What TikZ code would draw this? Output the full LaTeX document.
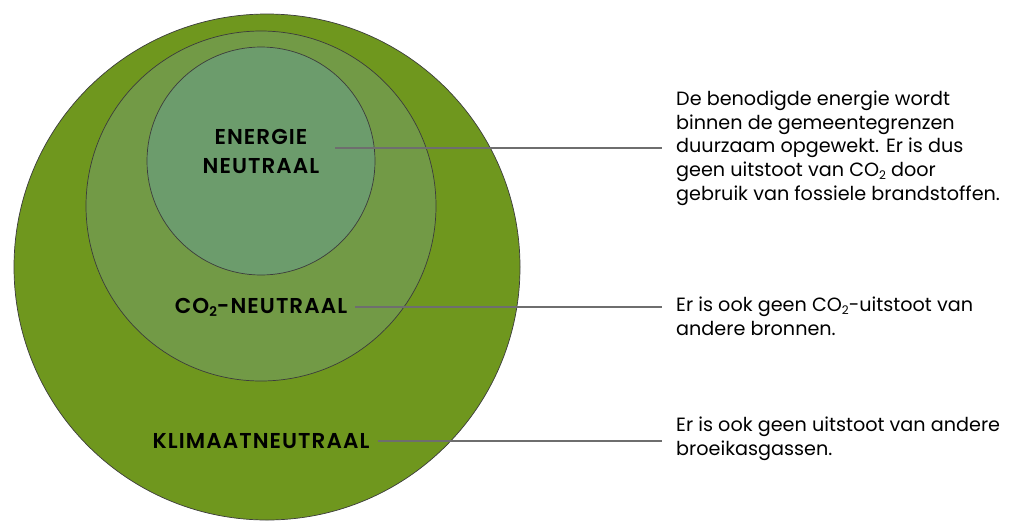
\documentclass[tikz,border=0pt]{standalone}
\usepackage{fontspec}
\setmainfont{Poppins}
\newfontfamily\lblfont{Poppins SemiBold}[LetterSpace=5]
\definecolor{outerc}{RGB}{111,151,30}
\definecolor{midc}{RGB}{114,154,70}
\definecolor{innerc}{RGB}{108,156,108}
\definecolor{linec}{RGB}{110,110,110}
\definecolor{ringc}{RGB}{60,60,60}
\tikzset{
  ring/.style={draw=ringc,line width=0.7pt},
  lbl/.style={font=\fontsize{21.5}{29}\lblfont,text=black,inner sep=0pt,align=center},
  desc/.style={font=\fontsize{19.2}{23.7}\selectfont,text=black,inner sep=0pt,align=left,anchor=west},
  conn/.style={draw=linec,line width=1.3pt}
}
\newcommand{\subtwo}{\raisebox{-0.25ex}{\scalebox{0.62}{2}}}
\begin{document}
\begin{tikzpicture}[x=1pt,y=-1pt]
\useasboundingbox (0,0) rectangle (1014,520);
\begin{scope}
\clip (0,0) rectangle (1014,520);
\fill[outerc] (267,267) circle (253);
\draw[ring] (267,267) circle (253);
\end{scope}
\fill[midc] (261,206) circle (175);
\draw[ring] (261,206) circle (175);
\fill[innerc] (261,161) circle (114);
\draw[ring] (261,161) circle (114);

\node[lbl] (en) at (261,151) {ENERGIE\\NEUTRAAL};
\node[lbl] (co) at (261,307) {CO\subtwo-NEUTRAAL};
\node[lbl] (kl) at (261,441) {KLIMAATNEUTRAAL};

\coordinate (ea) at (335,148);
\coordinate (eb) at (662,148);
\node[desc] (d1) at (676,148) {De benodigde energie wordt\\binnen de gemeentegrenzen\\duurzaam opgewekt. Er is dus\\geen uitstoot van CO\subtwo{} door\\gebruik van fossiele brandstoffen.};
\coordinate (cb) at (662,307);
\node[desc] (d2) at (676,316) {Er is ook geen CO\subtwo-uitstoot van\\andere bronnen.};
\coordinate (kb) at (662,441);
\node[desc] (d3) at (676,439) {Er is ook geen uitstoot van andere\\broeikasgassen.};

\draw[conn] (ea) -- (eb);
\draw[conn] (co.east) ++(8,0) coordinate (ca) -- (cb);
\draw[conn] (kl.east) ++(8,0) coordinate (ka) -- (kb);
\end{tikzpicture}
\end{document}
